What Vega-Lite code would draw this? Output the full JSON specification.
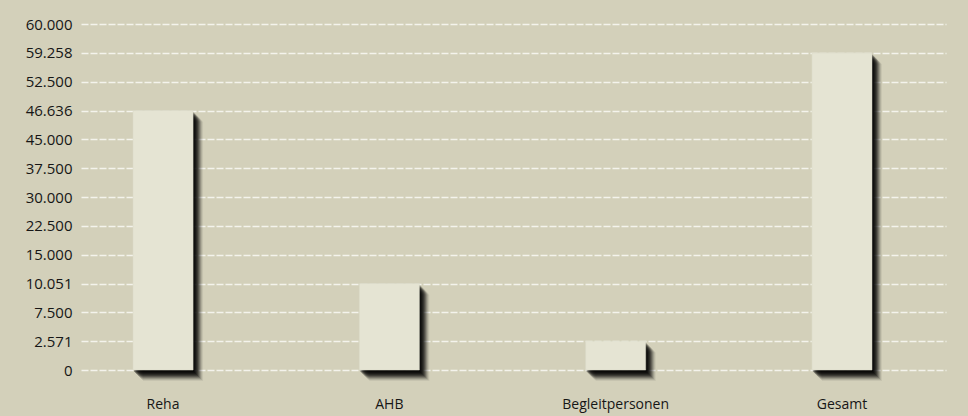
{
  "$schema": "https://vega.github.io/schema/vega-lite/v6.json",
  "width": 865,
  "height": 346,
  "autosize": "none",
  "padding": {"left": 81, "top": 24, "right": 22, "bottom": 46},
  "background": "#d3d0ba",
  "config": {
    "view": {"stroke": null},
    "font": "Open Sans"
  },
  "data": {
    "values": [
      {"kategorie": "Reha", "wert": 46636},
      {"kategorie": "AHB", "wert": 10051},
      {"kategorie": "Begleitpersonen", "wert": 2571},
      {"kategorie": "Gesamt", "wert": 59258}
    ]
  },
  "encoding": {
    "x": {
      "field": "kategorie",
      "type": "nominal",
      "sort": null,
      "scale": {"paddingInner": 0.7345, "paddingOuter": 0.2784, "align": 0.4127},
      "axis": {
        "title": null,
        "labelAngle": 0,
        "domain": false,
        "ticks": false,
        "labelPadding": 27,
        "labelFont": "Open Sans",
        "labelFontSize": 14,
        "labelColor": "#161616"
      }
    },
    "y": {
      "field": "wert",
      "type": "quantitative",
      "scale": {
        "domain": [0, 2571, 7500, 10051, 15000, 22500, 30000, 37500, 45000, 46636, 52500, 59258, 60000],
        "range": [346, 317.17, 288.33, 259.5, 230.67, 201.83, 173, 144.17, 115.33, 86.5, 57.67, 28.83, 0],
        "nice": false,
        "zero": false
      },
      "axis": {
        "title": null,
        "values": [0, 2571, 7500, 10051, 15000, 22500, 30000, 37500, 45000, 46636, 52500, 59258, 60000],
        "labelExpr": "replace(format(datum.value, ','), ',', '.')",
        "domain": false,
        "ticks": false,
        "labelPadding": 9,
        "labelFont": "Open Sans",
        "labelFontSize": 15,
        "labelColor": "#161616",
        "grid": true,
        "gridColor": "#f4f3ec",
        "gridDash": [7, 2],
        "gridWidth": 1.5
      }
    }
  },
  "layer": [
    {"mark": {"type": "bar", "color": "#000000", "opacity": 0.35, "xOffset": 1, "yOffset": 2}},
    {"mark": {"type": "bar", "color": "#000000", "opacity": 0.35, "xOffset": 2, "yOffset": 3}},
    {"mark": {"type": "bar", "color": "#000000", "opacity": 0.35, "xOffset": 3, "yOffset": 4}},
    {"mark": {"type": "bar", "color": "#000000", "opacity": 0.3, "xOffset": 4, "yOffset": 5}},
    {"mark": {"type": "bar", "color": "#000000", "opacity": 0.3, "xOffset": 5, "yOffset": 6}},
    {"mark": {"type": "bar", "color": "#000000", "opacity": 0.25, "xOffset": 6, "yOffset": 7}},
    {"mark": {"type": "bar", "color": "#000000", "opacity": 0.2, "xOffset": 7, "yOffset": 8}},
    {"mark": {"type": "bar", "color": "#000000", "opacity": 0.15, "xOffset": 8, "yOffset": 9}},
    {"mark": {"type": "bar", "color": "#000000", "opacity": 0.1, "xOffset": 9, "yOffset": 10}},
    {"mark": {"type": "bar", "color": "#000000", "opacity": 0.06, "xOffset": 10, "yOffset": 11}},
    {"mark": {"type": "bar", "color": "#e5e4d3", "stroke": "#d9d8c6", "strokeWidth": 0.5}}
  ]
}
